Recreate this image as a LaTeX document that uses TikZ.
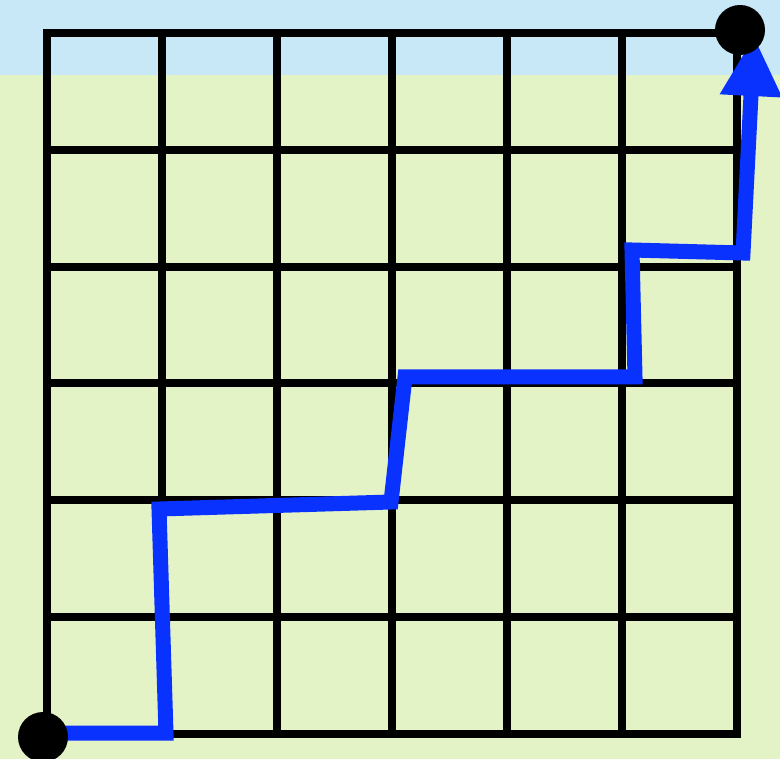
\documentclass[tikz,border=0pt]{standalone}
\usetikzlibrary{arrows.meta}
\definecolor{skyband}{HTML}{C8E8F8}
\definecolor{meadow}{HTML}{E4F3C6}
\definecolor{walk}{HTML}{0A32FF}
\begin{document}
\begin{tikzpicture}[x=1pt,y=-1pt,
 dot/.style={circle,fill=black,inner sep=0pt,minimum size=50pt},
 lattice/.style={line width=8pt,line cap=rect},
 route/.style={walk,line width=15pt,-{Triangle[width=58pt,length=60pt]}}]
 \useasboundingbox (0,0) rectangle (780,759);
 \fill[meadow] (0,0) rectangle (780,759);
 \fill[skyband] (0,0) rectangle (780,75);
 % 6x6 grid
 \foreach \i in {0,...,6} {
  \draw[lattice] (47+115*\i,33) -- (47+115*\i,734);
  \draw[lattice] (47,33+116.83*\i) -- (737,33+116.83*\i);
 }
 % staircase walk
 \coordinate (w0) at (43,733);
 \coordinate (w1) at (166,733);
 \coordinate (w2) at (159,509);
 \coordinate (w3) at (391,502);
 \coordinate (w4) at (405,377);
 \coordinate (w5) at (635,377);
 \coordinate (w6) at (632,250);
 \coordinate (w7) at (743,253);
 \coordinate (tip) at (754,36);
 \draw[route] (w0)--(w1)--(w2)--(w3)--(w4)--(w5)--(w6)--(w7)--(tip);
 \node[dot] (start) at (43,737) {};
 \node[dot] (goal) at (740,30) {};
\end{tikzpicture}
\end{document}
